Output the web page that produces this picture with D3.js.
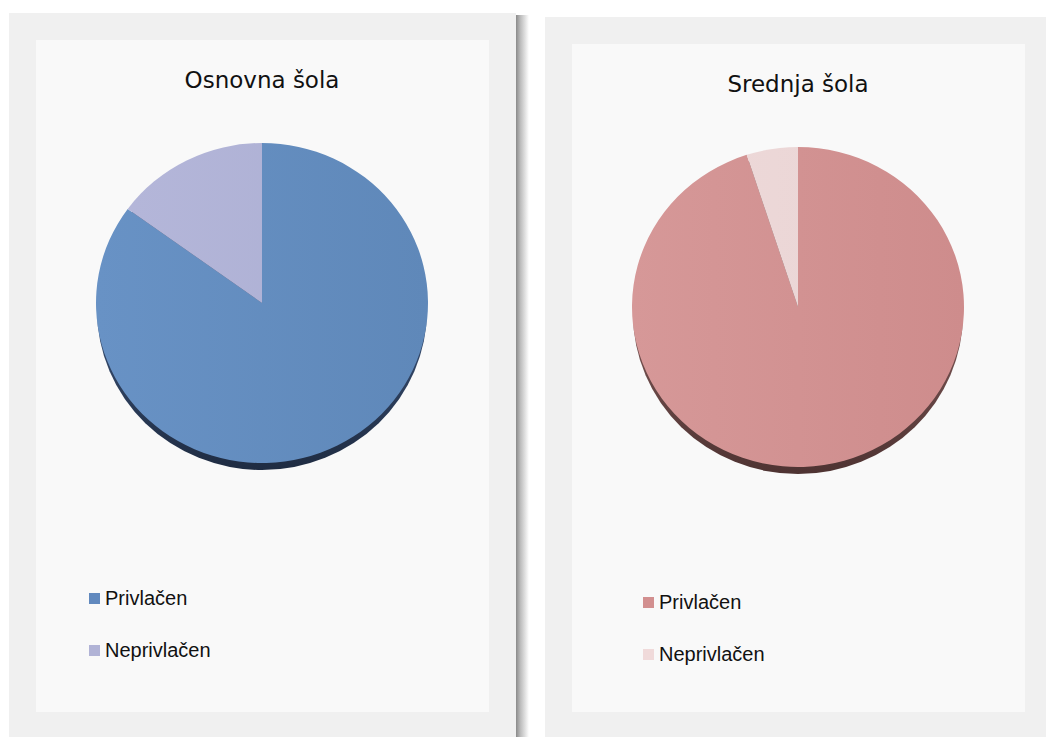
<!DOCTYPE html>
<html>
<head>
<meta charset="utf-8">
<script src="https://cdn.jsdelivr.net/npm/d3@7"></script>
<style>
  html, body { margin: 0; padding: 0; background: #ffffff; }
  svg { display: block; }
</style>
</head>
<body>
<svg id="chart" width="1046" height="737"></svg>
<script>
// ---- data ----
const categories = ["Privlačen", "Neprivlačen"];
const chartTitles = ["Osnovna šola", "Srednja šola"];
const osnovnaValues = [85, 15];
const srednjaValues = [95, 5];

// ---- styles ----
const palettes = [
  { face: [["#6892c5", "#5f88b9"], ["#b5b7da", "#abaed2"]], legend: ["#6189be", "#b1b3d6"], edge: ["#34496b", "#1f2c42"] },
  { face: [["#d69898", "#ce8c8c"], ["#eedada", "#e9d3d3"]], legend: ["#d28f8f", "#f0dada"], edge: ["#74504f", "#4e3332"] }
];

const svg = d3.select("#chart");
const defs = svg.append("defs");

const shadow = defs.append("linearGradient").attr("id", "shadowR").attr("x1", 0).attr("x2", 1).attr("y1", 0).attr("y2", 0);
shadow.append("stop").attr("offset", 0).attr("stop-color", "#8a8a8a");
shadow.append("stop").attr("offset", 0.35).attr("stop-color", "#bdbdbd");
shadow.append("stop").attr("offset", 1).attr("stop-color", "#ffffff");

palettes.forEach((p, pi) => {
  p.face.forEach((c, ci) => {
    const g = defs.append("linearGradient").attr("id", `face${pi}_${ci}`)
      .attr("gradientUnits", "userSpaceOnUse")
      .attr("x1", -166).attr("x2", 166).attr("y1", 0).attr("y2", 0);
    g.append("stop").attr("offset", 0).attr("stop-color", c[0]);
    g.append("stop").attr("offset", 1).attr("stop-color", c[1]);
  });
  const e = defs.append("linearGradient").attr("id", `edge${pi}`)
    .attr("x1", 0).attr("x2", 0).attr("y1", 0).attr("y2", 1);
  e.append("stop").attr("offset", 0.6).attr("stop-color", p.edge[0]);
  e.append("stop").attr("offset", 1).attr("stop-color", p.edge[1]);
});

const panels = [
  { dx: 0, dy: 0, outerW: 507, values: osnovnaValues, shadow: true, legendX: 89 },
  { dx: 536, dy: 4, outerW: 520, values: srednjaValues, shadow: false, legendX: 107 }
];

const rx = 166, ry = 160, depth = 7;
const pie = d3.pie().sort(null).value(d => d);
const arc = d3.arc().innerRadius(0).outerRadius(rx);

panels.forEach((pnl, pi) => {
  const g = svg.append("g").attr("transform", `translate(${pnl.dx},${pnl.dy})`);
  if (pnl.shadow) {
    g.append("rect").attr("x", 516).attr("y", 15).attr("width", 13).attr("height", 740).attr("fill", "url(#shadowR)");
  }
  g.append("rect").attr("x", 9).attr("y", 13).attr("width", pnl.outerW).attr("height", 740).attr("fill", "#f0f0f0");
  g.append("rect").attr("x", 36).attr("y", 40).attr("width", 453).attr("height", 672 - pnl.dy).attr("fill", "#f9f9f9");

  g.append("text")
    .attr("x", 262).attr("y", 88)
    .attr("text-anchor", "middle")
    .attr("font-family", "'Segoe Print', 'Comic Sans MS', 'DejaVu Sans', sans-serif")
    .attr("font-size", 23)
    .attr("fill", "#111")
    .text(chartTitles[pi]);

  const cx = 262, cy = 303;
  // extrusion (side of the 3D pie)
  g.append("ellipse").attr("cx", cx).attr("cy", cy + depth).attr("rx", rx - 1).attr("ry", ry)
    .attr("fill", `url(#edge${pi})`);

  const pg = g.append("g").attr("transform", `translate(${cx},${cy}) scale(1,${ry / rx})`);
  pg.selectAll("path")
    .data(pie(pnl.values))
    .join("path")
    .attr("d", arc)
    .attr("fill", (d, i) => `url(#face${pi}_${i})`);

  const leg = g.selectAll("g.leg")
    .data(categories)
    .join("g")
    .attr("class", "leg")
    .attr("transform", (d, i) => `translate(${pnl.legendX},${593 + i * 52})`);
  leg.append("rect").attr("width", 11).attr("height", 11)
    .attr("fill", (d, i) => palettes[pi].legend[i]);
  leg.append("text").attr("x", 16).attr("y", 12)
    .attr("font-family", "'Liberation Sans', Arial, sans-serif")
    .attr("font-size", 20)
    .attr("fill", "#111")
    .text(d => d);
});
</script>
</body>
</html>
